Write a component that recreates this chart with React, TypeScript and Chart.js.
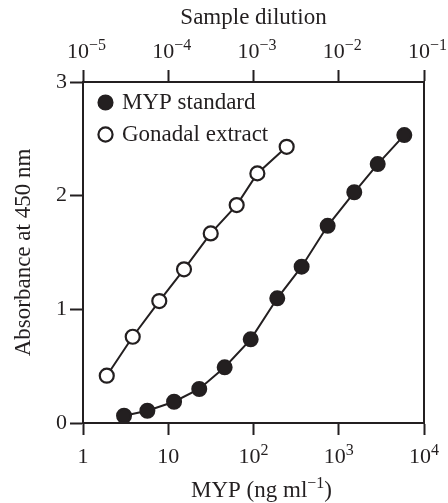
import React, { useEffect, useRef } from 'react';
import { Chart, registerables } from 'chart.js';

Chart.register(...registerables);

// MYP standard: concentration (ng/ml) vs absorbance
const mypConc = [3.03, 5.69, 11.7, 23.1, 45.9, 92.7, 190, 367, 741, 1521, 2864, 5875];
const mypAbs = [0.064, 0.108, 0.187, 0.299, 0.49, 0.736, 1.097, 1.375, 1.735, 2.03, 2.278, 2.533];

// Gonadal extract: sample dilution vs absorbance
const gonadDilution = [1.9e-5, 3.83e-5, 7.85e-5, 1.53e-4, 3.15e-4, 6.35e-4, 1.11e-3, 2.45e-3];
const gonadAbs = [0.416, 0.759, 1.073, 1.352, 1.668, 1.917, 2.196, 2.43];

const concTicks = [1, 10, 100, 1000, 10000];
const concTickBase = ['1', '10', '10', '10', '10'];
const concTickExp = ['', '', '2', '3', '4'];
const dilutionTicks = [1e-5, 1e-4, 1e-3, 1e-2, 1e-1];
const dilutionTickBase = ['10', '10', '10', '10', '10'];
const dilutionTickExp = ['\u22125', '\u22124', '\u22123', '\u22122', '\u22121'];
const absTicks = [0, 1, 2, 3];

const xTitleParts = ['MYP (ng ml', '\u22121', ')'];
const x2Title = 'Sample dilution';
const yTitle = 'Absorbance at 450 nm';

const INK = '#231f20';
const FAMILY = "'Liberation Serif', 'Times New Roman', serif";

export default function App() {
  const ref = useRef<HTMLCanvasElement>(null);

  useEffect(() => {
    const fixTicks = (vals: number[]) => (scale: any) => {
      scale.ticks = vals.map((v) => ({ value: v }));
    };
    const tickFont = { family: FAMILY, size: 22 };
    const titleFont = { family: FAMILY, size: 23 };

    const legendPlace = {
      id: 'legendPlace',
      afterLayout(chart: any) {
        const lg = chart.legend;
        if (!lg) return;
        const ca = chart.chartArea;
        const w = lg.width;
        const h = lg.height;
        lg.left = ca.left + 8.5;
        lg.top = ca.top;
        lg.right = lg.left + w;
        lg.bottom = lg.top + h;
      },
    };

    // Draws power-of-ten tick labels (with real superscripts) at the scales' tick positions
    const powerLabels = {
      id: 'powerLabels',
      afterDraw(chart: any) {
        const ctx = chart.ctx;
        ctx.save();
        ctx.fillStyle = INK;
        ctx.textAlign = 'left';
        ctx.textBaseline = 'alphabetic';
        const drawSet = (scale: any, vals: number[], base: string[], exp: string[], baseline: number, shift: number) => {
          vals.forEach((v, i) => {
            const px = scale.getPixelForValue(v);
            ctx.font = `22px ${FAMILY}`;
            const wb = ctx.measureText(base[i]).width;
            ctx.font = `16px ${FAMILY}`;
            const we = exp[i] ? ctx.measureText(exp[i]).width : 0;
            const x0 = px - (wb + we) / 2 + shift;
            ctx.font = `22px ${FAMILY}`;
            ctx.fillText(base[i], x0, baseline);
            if (exp[i]) {
              ctx.font = `16px ${FAMILY}`;
              ctx.fillText(exp[i], x0 + wb, baseline - 8);
            }
          });
        };
        const sx = chart.scales.x;
        const sx2 = chart.scales.x2;
        drawSet(sx, concTicks, concTickBase, concTickExp, sx.top + 40, 0);
        drawSet(sx2, dilutionTicks, dilutionTickBase, dilutionTickExp, sx2.bottom - 24, 3.5);

        // bottom axis title with superscript
        ctx.font = `23px ${FAMILY}`;
        const w0 = ctx.measureText(xTitleParts[0]).width;
        const w2 = ctx.measureText(xTitleParts[2]).width;
        ctx.font = `16px ${FAMILY}`;
        const w1 = ctx.measureText(xTitleParts[1]).width;
        const cx = (sx.left + sx.right) / 2 + 8;
        const by = sx.top + 74;
        let x = cx - (w0 + w1 + w2) / 2;
        ctx.font = `23px ${FAMILY}`;
        ctx.fillText(xTitleParts[0], x, by);
        x += w0;
        ctx.font = `16px ${FAMILY}`;
        ctx.fillText(xTitleParts[1], x, by - 9);
        x += w1;
        ctx.font = `23px ${FAMILY}`;
        ctx.fillText(xTitleParts[2], x, by);
        ctx.restore();
      },
    };

    const chart = new Chart(ref.current as HTMLCanvasElement, {
      type: 'line',
      data: {
        datasets: [
          {
            label: 'MYP standard',
            data: mypConc.map((x, i) => ({ x, y: mypAbs[i] })),
            xAxisID: 'x',
            yAxisID: 'y',
            borderColor: INK,
            borderWidth: 2,
            pointRadius: 7,
            pointBackgroundColor: INK,
            pointBorderColor: INK,
            pointBorderWidth: 2,
            pointStyle: 'circle',
            fill: false,
            tension: 0,
          },
          {
            label: 'Gonadal extract',
            data: gonadDilution.map((x, i) => ({ x, y: gonadAbs[i] })),
            xAxisID: 'x2',
            yAxisID: 'y',
            borderColor: INK,
            borderWidth: 2,
            pointRadius: 7,
            pointBackgroundColor: '#ffffff',
            pointBorderColor: INK,
            pointBorderWidth: 2.2,
            pointStyle: 'circle',
            fill: false,
            tension: 0,
          },
        ],
      },
      options: {
        responsive: false,
        animation: false,
        layout: { padding: 0 },
        plugins: {
          tooltip: { enabled: false },
          legend: {
            position: 'chartArea',
            align: 'start',
            labels: {
              usePointStyle: true,
              boxHeight: 10,
              boxWidth: 10,
              padding: 9,
              color: INK,
              font: titleFont,
            },
          },
        },
        scales: {
          x: {
            type: 'logarithmic',
            position: 'bottom',
            min: 1,
            max: 10000,
            afterBuildTicks: fixTicks(concTicks),
            afterFit: (s: any) => { s.height = 80; },
            ticks: { display: false },
            grid: { drawOnChartArea: false, tickLength: 12, tickWidth: 2, tickColor: INK },
            border: { color: INK, width: 2 },
            title: { display: false },
          },
          x2: {
            type: 'logarithmic',
            position: 'top',
            min: 1e-5,
            max: 1e-1,
            afterBuildTicks: fixTicks(dilutionTicks),
            afterFit: (s: any) => { s.height = 82; },
            ticks: { display: false },
            grid: { drawOnChartArea: false, tickLength: 12, tickWidth: 2, tickColor: INK },
            border: { color: INK, width: 2 },
            title: { display: true, text: x2Title, color: INK, font: titleFont, padding: { top: 4, bottom: 0 } },
          },
          y: {
            type: 'linear',
            position: 'left',
            min: 0,
            max: 3,
            afterBuildTicks: fixTicks(absTicks),
            afterFit: (s: any) => { s.width = 83; },
            ticks: { padding: 3, color: INK, font: tickFont },
            grid: { drawOnChartArea: false, tickLength: 13, tickWidth: 2, tickColor: INK },
            border: { color: INK, width: 2 },
            title: { display: true, text: yTitle, color: INK, font: titleFont, padding: { top: 10, bottom: 0 } },
          },
          y2: {
            type: 'linear',
            position: 'right',
            min: 0,
            max: 3,
            afterFit: (s: any) => { s.width = 24; },
            ticks: { display: false },
            grid: { display: false, drawTicks: false },
            border: { display: true, color: INK, width: 2 },
          },
        },
      },
      plugins: [legendPlace, powerLabels],
    } as any);

    return () => chart.destroy();
  }, []);

  return (
    <div style={{ position: 'absolute', left: 0, top: 0, width: 448, height: 503, background: '#fff' }}>
      <canvas ref={ref} width={448} height={503} style={{ display: 'block' }} />
    </div>
  );
}
